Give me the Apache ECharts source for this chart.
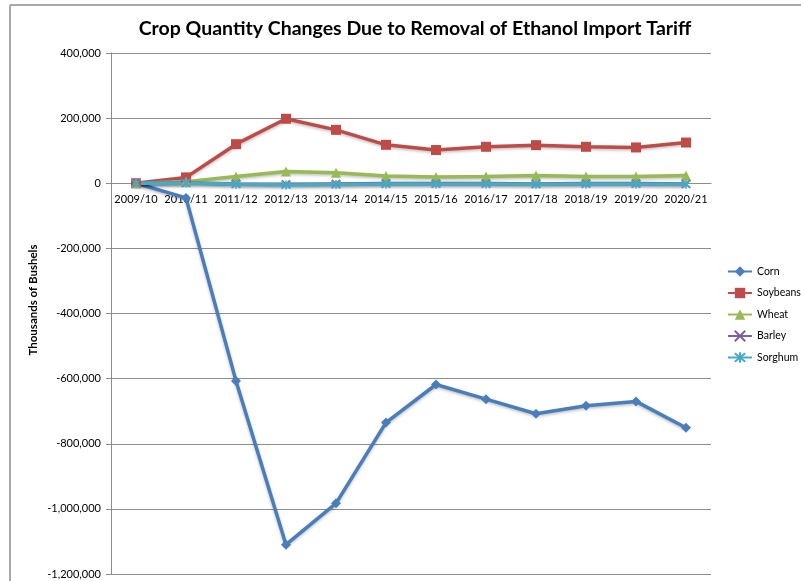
<!DOCTYPE html>
<html>
<head>
<meta charset="utf-8">
<script src="https://cdn.jsdelivr.net/npm/echarts@6/dist/echarts.min.js"></script>
<style>
  html, body { margin: 0; padding: 0; background: #fff; }
  #chart { width: 801px; height: 581px; }
</style>
</head>
<body>
<div id="chart"></div>
<script>
// Marketing years on the category axis
const years = ['2009/10', '2010/11', '2011/12', '2012/13', '2013/14', '2014/15',
               '2015/16', '2016/17', '2017/18', '2018/19', '2019/20', '2020/21'];

// Quantity changes, thousands of bushels
const corn     = [0, -45000, -607000, -1110000, -983000, -735000, -618000, -663000, -708000, -683000, -670000, -751000];
const soybeans = [0, 18000, 120000, 198000, 164000, 118000, 102000, 112000, 117000, 112000, 110000, 125000];
const wheat    = [0, 5000, 21000, 36000, 32000, 22000, 19000, 21000, 24000, 21000, 21000, 24000];
const barley   = [0, 1000, -2000, -3000, -2000, -1000, -1000, -1000, -2000, -1000, -1000, -2000];
const sorghum  = [0, 1000, -3000, -5000, -4000, -2000, -2000, -2000, -3000, -2000, -2000, -3000];

// Value axis range and step
const yMin = -1200000, yMax = 400000, yStep = 200000;

const FONT = 'Lato, "Open Sans", sans-serif';
const xPath = 'path://M0,0L10,10M10,0L0,10';
const starPath = 'path://M0,0L10,10M10,0L0,10M5,-1L5,11';

// Plot area geometry
const gridTop = 53, gridBottom = 7, chartH = 581;
const plotH = chartH - gridTop - gridBottom;
// distance from the bottom edge of the plot up to the zero line
const zeroLift = plotH * (0 - yMin) / (yMax - yMin);

function lineSeries(name, data, color, symbol, size, stroke) {
  return {
    name, type: 'line', data,
    symbol, symbolSize: size,
    showAllSymbol: true,
    lineStyle: { color, width: 3.5, shadowColor: 'rgba(0,0,0,0.25)', shadowBlur: 3, shadowOffsetY: 1.5 },
    itemStyle: stroke
      ? { color: 'rgba(0,0,0,0)', borderColor: color, borderWidth: 1.6 }
      : { color, borderColor: color, borderWidth: 0 },
    emphasis: { disabled: true },
    animation: false
  };
}

const chart = echarts.init(document.getElementById('chart'), null, { renderer: 'canvas' });
chart.setOption({
  backgroundColor: '#fff',
  title: {
    text: 'Crop Quantity Changes Due to Removal of Ethanol Import Tariff',
    left: 410, top: 14, textAlign: 'center',
    textStyle: { fontFamily: FONT, fontSize: 19.5, fontWeight: 'bold', color: '#000' }
  },
  legend: {
    orient: 'vertical', left: 722, top: 260,
    itemWidth: 24, itemHeight: 13, itemGap: 8.5,
    textStyle: { fontFamily: FONT, fontSize: 10.5, color: '#000', lineHeight: 13 },
    data: ['Corn', 'Soybeans', 'Wheat', 'Barley', 'Sorghum']
  },
  grid: { left: 111, right: 90, top: gridTop, bottom: gridBottom, containLabel: false, outerBoundsMode: 'none' },
  xAxis: {
    type: 'category', data: years, boundaryGap: true,
    position: 'bottom', offset: -zeroLift,
    axisLine: { onZero: false, lineStyle: { color: '#8c8c8c', width: 1 } },
    axisTick: { show: false },
    axisLabel: { fontFamily: FONT, fontSize: 11, color: '#000', margin: 11, interval: 0 }
  },
  yAxis: {
    type: 'value', min: yMin, max: yMax, interval: yStep,
    axisLine: { show: true, lineStyle: { color: '#8c8c8c', width: 1 } },
    axisTick: { show: true, length: 5, lineStyle: { color: '#8c8c8c' } },
    axisLabel: {
      fontFamily: FONT, fontSize: 11, color: '#000', margin: 10,
      formatter: v => v.toLocaleString('en-US')
    },
    splitLine: { show: true, lineStyle: { color: '#8c8c8c', width: 1 } }
  },
  graphic: [
    { type: 'line', shape: { x1: 10, y1: 5, x2: 801, y2: 5 }, style: { stroke: '#a8a8a8', lineWidth: 2 } },
    { type: 'line', shape: { x1: 10, y1: 5, x2: 10, y2: 581 }, style: { stroke: '#a8a8a8', lineWidth: 2 } },
    {
      type: 'text', x: 33, y: 300, rotation: Math.PI / 2,
      style: {
        text: 'Thousands of Bushels', fontFamily: FONT, fontSize: 11.5, fontWeight: 'bold',
        fill: '#000', textAlign: 'center', textVerticalAlign: 'middle'
      }
    }
  ],
  series: [
    lineSeries('Corn', corn, '#4a7ebb', 'diamond', 10, false),
    lineSeries('Soybeans', soybeans, '#be4b48', 'rect', 10, false),
    lineSeries('Wheat', wheat, '#98b954', 'triangle', 10, false),
    lineSeries('Barley', barley, '#7d60a0', xPath, 8, true),
    lineSeries('Sorghum', sorghum, '#46aac5', starPath, 9, true)
  ]
});
</script>
</body>
</html>
